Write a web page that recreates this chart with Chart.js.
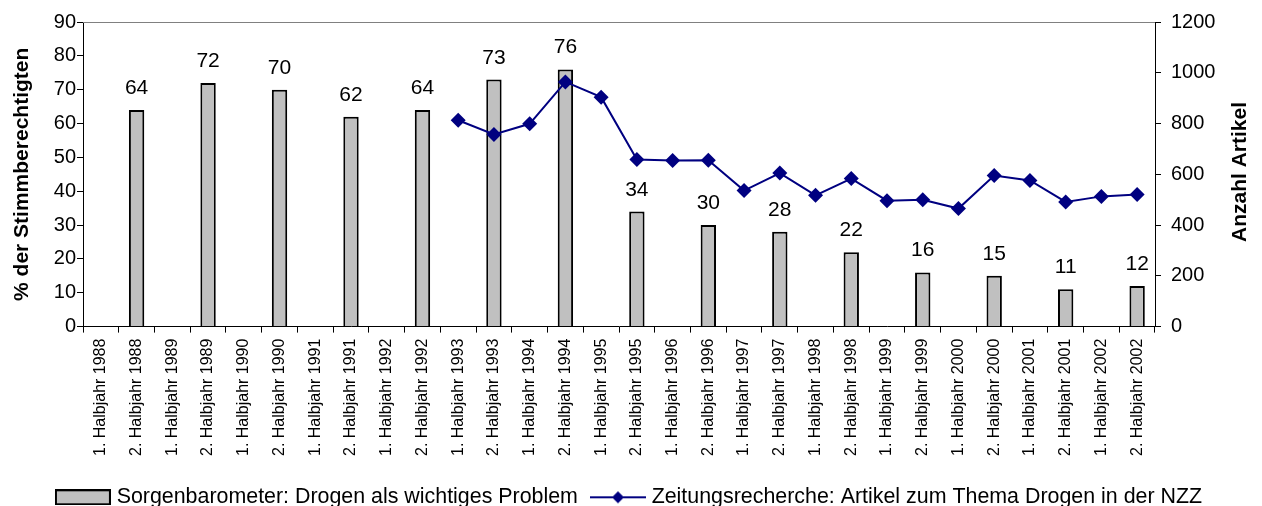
<!DOCTYPE html>
<html>
<head>
<meta charset="utf-8">
<script src="https://cdn.jsdelivr.net/npm/chart.js@4"></script>
<style>
  html, body { margin: 0; padding: 0; background: #fff; }
  #wrap { width: 1262px; height: 506px; }
</style>
</head>
<body>
<div id="wrap"><canvas id="chart" width="1262" height="506"></canvas></div>
<script>
const halbjahre = [
  "1. Halbjahr 1988", "2. Halbjahr 1988", "1. Halbjahr 1989", "2. Halbjahr 1989",
  "1. Halbjahr 1990", "2. Halbjahr 1990", "1. Halbjahr 1991", "2. Halbjahr 1991",
  "1. Halbjahr 1992", "2. Halbjahr 1992", "1. Halbjahr 1993", "2. Halbjahr 1993",
  "1. Halbjahr 1994", "2. Halbjahr 1994", "1. Halbjahr 1995", "2. Halbjahr 1995",
  "1. Halbjahr 1996", "2. Halbjahr 1996", "1. Halbjahr 1997", "2. Halbjahr 1997",
  "1. Halbjahr 1998", "2. Halbjahr 1998", "1. Halbjahr 1999", "2. Halbjahr 1999",
  "1. Halbjahr 2000", "2. Halbjahr 2000", "1. Halbjahr 2001", "2. Halbjahr 2001",
  "1. Halbjahr 2002", "2. Halbjahr 2002",
];

// Sorgenbarometer (% der Stimmberechtigten), nur 2. Halbjahr erhoben
const sorgen = [
  null, 64, null, 72, null, 70, null, 62, null, 64,
  null, 73, null, 76, null, 34, null, 30, null, 28,
  null, 22, null, 16, null, 15, null, 11, null, 12,
];

// NZZ-Artikel zum Thema Drogen (ab 1993)
const artikel = [
  null, null, null, null, null, null, null, null, null, null,
  813, 757, 799, 964, 904, 658, 654, 655, 536, 605,
  517, 583, 496, 500, 465, 595, 576, 491, 513, 520,
];

const leftTicks = [0, 10, 20, 30, 40, 50, 60, 70, 80, 90];
const rightTicks = [0, 200, 400, 600, 800, 1000, 1200];

const FONT = '"Liberation Sans", Arial, sans-serif';
const NAVY = "#000080";

// legend symbols
function barSymbol() {
  const c = document.createElement("canvas");
  c.width = 56; c.height = 16;
  const g = c.getContext("2d");
  g.fillStyle = "#c0c0c0";
  g.fillRect(1, 1, 54, 14);
  g.strokeStyle = "#000"; g.lineWidth = 2;
  g.strokeRect(1, 1, 54, 14);
  return c;
}
function lineSymbol() {
  const c = document.createElement("canvas");
  c.width = 56; c.height = 14;
  const g = c.getContext("2d");
  g.strokeStyle = NAVY; g.lineWidth = 2;
  g.beginPath(); g.moveTo(0, 7); g.lineTo(56, 7); g.stroke();
  g.fillStyle = NAVY;
  g.beginPath(); g.moveTo(28, 1); g.lineTo(34, 7); g.lineTo(28, 13); g.lineTo(22, 7); g.closePath(); g.fill();
  return c;
}

const barLabels = {
  id: "barLabels",
  afterDatasetsDraw(chart) {
    const ctx = chart.ctx;
    const meta = chart.getDatasetMeta(0);
    ctx.save();
    ctx.font = "21px " + FONT;
    ctx.fillStyle = "#000";
    ctx.textAlign = "center";
    ctx.textBaseline = "alphabetic";
    meta.data.forEach((bar, i) => {
      if (sorgen[i] == null) return;
      ctx.fillText(String(sorgen[i]), bar.x, bar.y - 16);
    });
    ctx.restore();
  },
};

const frame = {
  id: "frame",
  afterLayout(chart) {
    // push the legend row down to the bottom edge
    chart.legend.top += 12;
    chart.legend.bottom += 12;
  },
  beforeDatasetsDraw(chart) {
    const { ctx, chartArea } = chart;
    ctx.save();
    ctx.strokeStyle = "#808080";
    ctx.lineWidth = 1;
    ctx.beginPath();
    ctx.moveTo(chartArea.left, chartArea.top + 0.5);
    ctx.lineTo(chartArea.right, chartArea.top + 0.5);
    ctx.stroke();
    ctx.restore();
  },
  afterDraw(chart) {
    // right axis title reads bottom to top
    const ctx = chart.ctx;
    ctx.save();
    ctx.translate(1240, 172);
    ctx.rotate(-Math.PI / 2);
    ctx.font = "bold 21px " + FONT;
    ctx.fillStyle = "#000";
    ctx.textAlign = "center";
    ctx.textBaseline = "middle";
    ctx.fillText("Anzahl Artikel", 0, 0);
    ctx.restore();
  },
};

new Chart(document.getElementById("chart"), {
  type: "bar",
  data: {
    labels: halbjahre,
    datasets: [
      {
        label: "Sorgenbarometer: Drogen als wichtiges Problem",
        data: sorgen,
        backgroundColor: "#c0c0c0",
        borderColor: "#000",
        borderWidth: 2,
        barPercentage: 0.43,
        categoryPercentage: 1,
        yAxisID: "y",
        order: 2,
      },
      {
        type: "line",
        label: "Zeitungsrecherche: Artikel zum Thema Drogen in der NZZ",
        data: artikel,
        borderColor: NAVY,
        backgroundColor: NAVY,
        borderWidth: 2,
        pointStyle: "rectRot",
        pointRadius: 7.5,
        pointBorderWidth: 0,
        tension: 0,
        yAxisID: "y1",
        order: 1,
      },
    ],
  },
  options: {
    responsive: false,
    animation: false,
    layout: { padding: { top: 21, left: 0, right: 0, bottom: 0 } },
    plugins: {
      tooltip: { enabled: false },
      legend: {
        position: "bottom",
        labels: {
          color: "#000",
          font: { family: FONT, size: 21.4 },
          usePointStyle: true,
          pointStyleWidth: 46,
          padding: 17,
          generateLabels(chart) {
            return chart.data.datasets.map((ds, i) => ({
              text: ds.label,
              pointStyle: i === 0 ? barSymbol() : lineSymbol(),
              fillStyle: "transparent",
              strokeStyle: "transparent",
              lineWidth: 0,
              fontColor: "#000",
              datasetIndex: i,
            }));
          },
        },
      },
    },
    scales: {
      x: {
        offset: true,
        grid: { display: true, drawOnChartArea: false, offset: true, color: "#000", tickLength: 6 },
        border: { display: true, color: "#000", width: 1 },
        ticks: {
          color: "#000",
          font: { family: FONT, size: 16 },
          minRotation: 90,
          maxRotation: 90,
          autoSkip: false,
          padding: 6,
        },
        afterFit(scale) { scale.height = 131; },
      },
      y: {
        position: "left",
        min: 0,
        max: 90,
        afterBuildTicks(scale) { scale.ticks = leftTicks.map(v => ({ value: v })); },
        grid: { display: true, drawOnChartArea: false, color: "#000", tickLength: 6 },
        border: { display: true, color: "#000", width: 1 },
        ticks: { color: "#000", font: { family: FONT, size: 20 }, padding: 1 },
        title: {
          display: true,
          text: "% der Stimmberechtigten",
          color: "#000",
          font: { family: FONT, size: 21, weight: "bold" },
          padding: { top: 10, bottom: 0 },
        },
        afterFit(scale) { scale.width = 83; },
      },
      y1: {
        position: "right",
        min: 0,
        max: 1200,
        afterBuildTicks(scale) { scale.ticks = rightTicks.map(v => ({ value: v })); },
        grid: { display: true, drawOnChartArea: false, color: "#000", tickLength: 6 },
        border: { display: true, color: "#000", width: 1 },
        ticks: {
          color: "#000",
          font: { family: FONT, size: 20 },
          padding: 10,
          callback: (v) => String(v),
        },
        afterFit(scale) { scale.width = 107; },
      },
    },
  },
  plugins: [frame, barLabels],
});
</script>
</body>
</html>
